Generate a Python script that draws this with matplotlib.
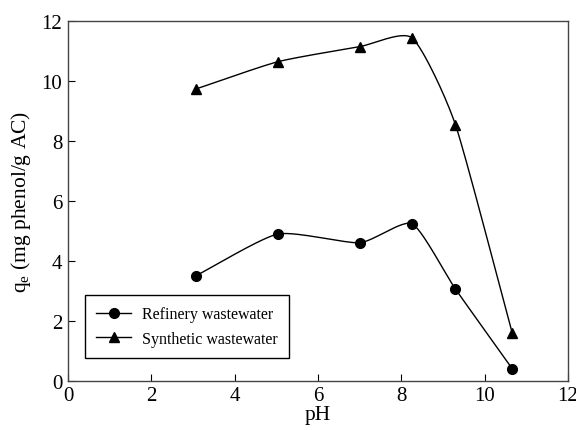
import numpy as np
import matplotlib
matplotlib.use('Agg')
import matplotlib.pyplot as plt

ph = [3.07, 5.04, 7.0, 8.26, 9.30, 10.66]
refinery = [3.50, 4.89, 4.60, 5.23, 3.06, 0.41]
synthetic = [9.72, 10.63, 11.13, 11.42, 8.53, 1.61]


def smooth(x, y, k=0.6, n=30):
    """Cardinal spline through the points (like the smoothed lines in the original)."""
    x = np.asarray(x, float)
    y = np.asarray(y, float)
    px = np.concatenate([[2 * x[0] - x[1]], x, [2 * x[-1] - x[-2]]])
    py = np.concatenate([[2 * y[0] - y[1]], y, [2 * y[-1] - y[-2]]])
    t = np.linspace(0, 1, n)
    h00 = 2 * t ** 3 - 3 * t ** 2 + 1
    h10 = t ** 3 - 2 * t ** 2 + t
    h01 = -2 * t ** 3 + 3 * t ** 2
    h11 = t ** 3 - t ** 2
    xs, ys = [], []
    for i in range(1, len(px) - 2):
        for p, out in ((px, xs), (py, ys)):
            m1 = k * 0.5 * (p[i + 1] - p[i - 1])
            m2 = k * 0.5 * (p[i + 2] - p[i])
            out.extend(h00 * p[i] + h10 * m1 + h01 * p[i + 1] + h11 * m2)
    return np.array(xs), np.array(ys)


plt.rcParams['font.family'] = ['Liberation Serif', 'DejaVu Serif']
plt.rcParams['mathtext.fontset'] = 'custom'
plt.rcParams['mathtext.rm'] = 'Liberation Serif'
plt.rcParams['mathtext.it'] = 'Liberation Serif'

fig = plt.figure(figsize=(5.76, 4.31), dpi=100)
ax = fig.add_axes([0.118, 0.114, 0.868, 0.836])

for ys, mk, lab in ((refinery, 'o', 'Refinery wastewater'), (synthetic, '^', 'Synthetic wastewater')):
    sx, sy = smooth(ph, ys)
    ax.plot(sx, sy, color='black', lw=1.0)
    ax.plot(ph, ys, linestyle='none', marker=mk, color='black', ms=7)
    ax.plot([], [], color='black', lw=1.0, marker=mk, ms=7, label=lab)

ax.set_xlim(0, 12)
ax.set_ylim(0, 12)
ax.set_xticks(np.arange(0, 13, 2))
ax.set_yticks(np.arange(0, 13, 2))
ax.tick_params(direction='in', length=5, labelsize=15, top=False, right=False, pad=4)
for s in ax.spines.values():
    s.set_color('#444444')
    s.set_linewidth(1.0)

ax.set_xlabel('pH', fontsize=15.5, labelpad=0)
ax.set_ylabel('q$_\\mathrm{e}$ (mg phenol/g AC)', fontsize=15.5, labelpad=6)

leg = ax.legend(loc='lower left', bbox_to_anchor=(0.034, 0.063), borderaxespad=0, fontsize=11.5,
                fancybox=False, framealpha=1, edgecolor='black', handlelength=2.2, handletextpad=0.7,
                borderpad=0.7, labelspacing=0.55)
leg.get_frame().set_linewidth(1.0)

fig.savefig('out.png', dpi=100)
